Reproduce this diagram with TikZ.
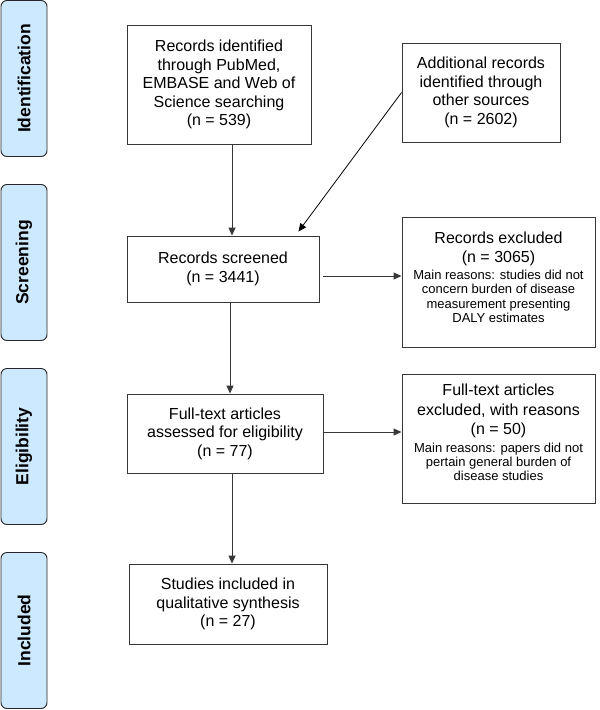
\documentclass[tikz,border=0pt]{standalone}
\usepackage{fontspec}
\setmainfont{Liberation Sans}
\usetikzlibrary{arrows.meta}
\definecolor{phase}{RGB}{205,233,255}
\definecolor{edge}{RGB}{55,55,55}
\newcommand{\bigf}{\fontsize{16}{18.5}\selectfont}
\newcommand{\smallf}{\fontsize{13}{14.4}\selectfont}
\begin{document}
\begin{tikzpicture}[x=1pt,y=-1pt,
  box/.style={draw=edge, line width=0.9pt, fill=white, align=center, inner sep=0pt, font=\bigf},
  plainbox/.style={draw=edge, line width=0.9pt, fill=white, inner sep=0pt},
  txt/.style={align=center, inner sep=0pt, font=\bigf},
  phasebox/.style={draw=black!85, line width=0.9pt, fill=phase, rounded corners=6pt, minimum width=46pt, minimum height=156pt, inner sep=0pt},
  phaselabel/.style={rotate=90, font=\fontsize{17.5}{20}\selectfont\bfseries},
  arr/.style={draw=edge, line width=1pt, -{Triangle[length=8pt,width=7pt]}},
  thin/.style={draw=black, line width=0.8pt, -{Triangle[length=8pt,width=7pt]}}
]
\useasboundingbox (0,0) rectangle (600,710);

% phase labels
\node[phasebox] (pid) at (24,78.5) {};
\node[phaselabel] (pidt) at (pid.center) {Identification};
\node[phasebox] (psc) at (24,262.5) {};
\node[phaselabel] (psct) at (psc.center) {Screening};
\node[phasebox] (pel) at (24,446.5) {};
\node[phaselabel] (pelt) at (pel.center) {Eligibility};
\node[phasebox] (pin) at (24,630.5) {};
\node[phaselabel] (pint) at (pin.center) {Included};

% boxes
\node[box, minimum width=184pt, minimum height=119pt] (rec) at (219,84.5)
  {Records identified\\through PubMed,\\EMBASE and Web of\\Science searching\\(n = 539)};
\node[box, minimum width=158pt, minimum height=99pt] (add) at (481,92.5)
  {Additional records\\identified through\\other sources\\(n = 2602)};
\node[box, minimum width=192pt, minimum height=66pt] (scr) at (223,269)
  {Records screened\\(n = 3441)};
\node[plainbox, minimum width=193pt, minimum height=130pt] (exc) at (498.5,282) {};
\node[txt] (exct) at ([yshift=5pt]exc.center)
  {Records excluded\\[0.5pt](n = 3065)\\[-1.2pt]
   {\smallf Main reasons: studies did not}\\[-4.2pt]{\smallf concern burden of disease}\\[-4.2pt]{\smallf measurement presenting}\\[-4.2pt]{\smallf DALY estimates}};
\node[box, minimum width=196pt, minimum height=79pt] (ft) at (225,433.5)
  {Full-text articles\\assessed for eligibility\\(n = 77)};
\node[plainbox, minimum width=193pt, minimum height=129pt] (fte) at (498.5,438.5) {};
\node[txt] (ftet) at ([yshift=6pt]fte.center)
  {Full-text articles\\[1pt]excluded, with reasons\\[1pt](n = 50)\\[-1.2pt]
   {\smallf Main reasons: papers did not}\\[-4.2pt]{\smallf pertain general burden of}\\[-4.2pt]{\smallf disease studies}};
\node[box, minimum width=198pt, minimum height=80pt] (inc) at (228,604)
  {Studies included in\\qualitative synthesis\\(n = 27)};

% connectors
\coordinate (vx) at (232,0);
\coordinate (vy) at (230,0);
\coordinate (s1) at ([xshift=4pt,yshift=-7pt]scr.east);
\coordinate (s2) at ([xshift=1pt,yshift=1.5pt]ft.east);
\coordinate (dg) at ([xshift=-21pt,yshift=4pt]scr.north east);
\draw[arr] (rec.south -| vx) -- (scr.north -| vx);
\draw[thin] (add.west) -- (dg);
\draw[arr] (s1) -- (exc.west |- s1);
\draw[arr] (scr.south -| vy) -- (ft.north -| vy);
\draw[arr] (s2) -- (fte.west |- s2);
\draw[arr] (ft.south -| vx) -- (inc.north -| vx);
\end{tikzpicture}
\end{document}
